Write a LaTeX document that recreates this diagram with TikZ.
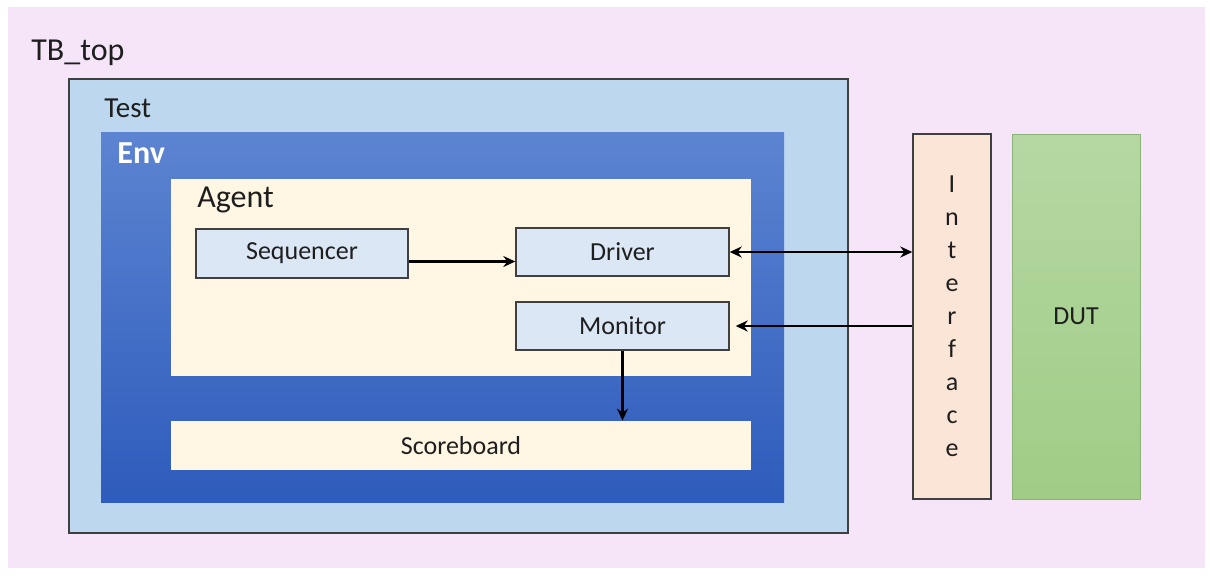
\documentclass[tikz,border=0pt]{standalone}
\usepackage{fontspec}
\setmainfont{Carlito}
\usepackage{xcolor}
\usepackage{tikz}
\usetikzlibrary{arrows.meta}
\definecolor{tbpink}{RGB}{246, 229, 249}
\definecolor{testblue}{RGB}{189, 215, 238}
\definecolor{envtop}{RGB}{92, 132, 209}
\definecolor{envbottom}{RGB}{46, 92, 188}
\definecolor{agentcream}{RGB}{255, 246, 227}
\definecolor{compblue}{RGB}{219, 231, 245}
\definecolor{ifpeach}{RGB}{251, 229, 214}
\definecolor{duttop}{RGB}{181, 216, 163}
\definecolor{dutbottom}{RGB}{160, 204, 134}
\definecolor{dutborder}{RGB}{140, 180, 120}
\definecolor{frame}{RGB}{64, 64, 64}
\definecolor{inktext}{RGB}{30, 30, 30}

\begin{document}
\begin{tikzpicture}[x=0.5pt, y=-0.5pt,
    every node/.style={font=\fontsize{13}{15}\selectfont, text=inktext},
    block/.style={draw=frame, line width=0.7pt, inner sep=0pt},
    comp/.style={block, fill=compblue, minimum width=106.5pt, minimum height=24pt},
    title/.style={anchor=base west, inner sep=0pt},
    flow/.style={draw=black, line width=1.3pt, -{Stealth[length=6pt, width=5.5pt]}}]
    % page and testbench area
    \fill[white] (0,0) rectangle (1210,575);
    \fill[tbpink] (8,7) rectangle (1205,568);
    \node[title, font=\fontsize{16}{18}\selectfont] (tblabel) at (31,60) {TB\_top};

    % test / env / agent nesting
    \node[block, fill=testblue, minimum width=389.5pt, minimum height=227pt] (test) at (458.5,306) {};
    \node[title, font=\fontsize{14.5}{16}\selectfont] (testlabel) at (104,117) {Test};

    \node[inner sep=0pt, top color=envtop, bottom color=envbottom, minimum width=341.5pt, minimum height=185pt] (env) at (442.5,317) {};
    \node[title, font=\fontsize{16}{18}\selectfont\bfseries, text=white] (envlabel) at (117,163) {Env};

    \node[inner sep=0pt, fill=agentcream, minimum width=290pt, minimum height=98.5pt] (agent) at (461,277.5) {};
    \node[title, font=\fontsize{16}{18}\selectfont] (agentlabel) at (197,207) {Agent};

    % agent components
    \node[comp, minimum width=106pt, minimum height=24.5pt] (seq) at (302,253.5) {Sequencer};
    \node[comp] (drv) at (622.5,252) {Driver};
    \node[comp] (mon) at (622.5,326) {Monitor};
    \node[inner sep=0pt, fill=agentcream, minimum width=290pt, minimum height=24.5pt] (sb) at (461,445.5) {Scoreboard};

    % interface and DUT
    \node[block, fill=ifpeach, minimum width=39pt, minimum height=182.5pt, align=center,
          font=\fontsize{13}{16.5}\selectfont] (intf) at (952,316.5) {I\\n\\t\\e\\r\\f\\a\\c\\e};
    \node[draw=dutborder, line width=0.5pt, top color=duttop, bottom color=dutbottom,
          minimum width=64pt, minimum height=182.5pt] (dut) at (1076,316.5) {DUT};

    % connections
    \draw[flow] ([yshift=-4pt]seq.east) -- ([yshift=-4pt]seq.east -| drv.west);
    \draw[flow, {Stealth[length=6pt, width=5.5pt]}-{Stealth[length=6pt, width=5.5pt]}] (drv.east) -- (drv.east -| intf.west);
    \draw[flow, shorten >=3pt] (mon.east -| intf.west) -- (mon.east);
    \draw[flow] (mon.south) -- (mon.south |- sb.north);
\end{tikzpicture}
\end{document}
